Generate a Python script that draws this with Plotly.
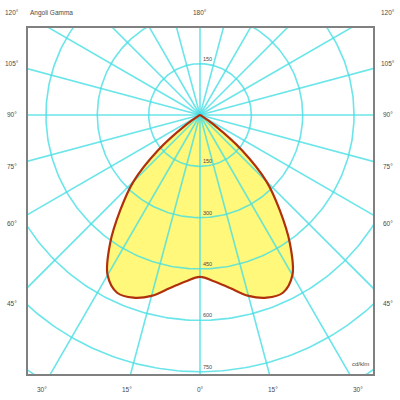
import numpy as np
import plotly.graph_objects as go

# Gamma angles (deg from nadir) and luminous intensity (cd/klm), C0-C180 plane
gamma = [0, 5, 10, 15, 20, 25, 30, 35, 40, 45, 50, 55, 60, 65]
intensity = [473, 488, 514, 547, 568, 573, 540, 458, 362, 275, 160, 50, 5, 0]

ring_values = [150, 300, 450, 600, 750, 900]
ring_labels_below = ["150", "300", "450", "600", "750"]
ring_label_above = "150"
spoke_step = 15

side_labels = ["120°", "105°", "90°", "75°", "60°", "45°"]
bottom_labels = ["30°", "15°", "0°", "15°", "30°"]
top_label = "180°"

GRID = "rgba(70,222,228,0.8)"
FILL = "#FFF87A"
EDGE = "#B0300C"
TXT = "#4a4a4a"
FONT = "Liberation Sans, Arial, sans-serif"

# pixel helpers for the 400x400 page (plot area 28..373 x 28..374)
L, R, T, B = 28, 373, 28, 374
def px(x):
    return (x - L) / (R - L)
def py(y):
    return (B - y) / (B - T)

# full curve: C180 half mirrored into negative side, then C0 half
g = np.array(gamma, dtype=float)
r = np.array(intensity, dtype=float)
ga = np.concatenate([-g[::-1], g[1:]])
ra = np.concatenate([r[::-1], r[1:]])
cx = ra * np.sin(np.radians(ga))
cy = -ra * np.cos(np.radians(ga))

fig = go.Figure()

fig.add_trace(go.Scatter(
    x=cx, y=cy, mode="lines", fill="toself", fillcolor=FILL,
    line=dict(width=0, shape="spline", smoothing=1.0),
    hoverinfo="skip", showlegend=False
))

# polar grid: rings
t = np.linspace(0, 2 * np.pi, 361)
for rv in ring_values:
    fig.add_trace(go.Scatter(
        x=rv * np.cos(t), y=rv * np.sin(t), mode="lines",
        line=dict(color=GRID, width=1.6), hoverinfo="skip", showlegend=False
    ))

# polar grid: spokes
for a in range(0, 360, spoke_step):
    ang = np.radians(a)
    fig.add_trace(go.Scatter(
        x=[0, 1400 * np.sin(ang)], y=[0, -1400 * np.cos(ang)], mode="lines",
        line=dict(color=GRID, width=1.6), hoverinfo="skip", showlegend=False
    ))

fig.add_trace(go.Scatter(
    x=cx, y=cy, mode="lines",
    line=dict(color=EDGE, width=2.2, shape="spline", smoothing=1.0),
    hoverinfo="skip", showlegend=False
))

annotations = []
def label(text, x, y, xanchor="center", yanchor="middle", size=6.5):
    annotations.append(dict(
        text=text, x=x, y=y, xref="paper", yref="paper", showarrow=False,
        xanchor=xanchor, yanchor=yanchor, font=dict(family=FONT, size=size, color=TXT)
    ))

side_y = [13, 63, 115, 166, 223, 303]
for txt, yy in zip(side_labels, side_y):
    label(txt, px(12), py(yy))
    label(txt, px(388), py(yy))

bottom_x = [42, 127, 200, 273, 358]
for txt, xx in zip(bottom_labels, bottom_x):
    label(txt, px(xx), py(389))

label(top_label, px(200), py(13))
label("Angoli Gamma", px(28), py(13), xanchor="left")
label("cd/klm", px(371), py(369), xanchor="right", yanchor="bottom", size=6)

for txt, rv in zip(ring_labels_below, ring_values):
    annotations.append(dict(
        text=txt, x=4, y=-rv, xref="x", yref="y", showarrow=False,
        xanchor="left", yanchor="bottom", font=dict(family=FONT, size=5.5, color=TXT)
    ))
annotations.append(dict(
    text=ring_label_above, x=4, y=ring_values[0], xref="x", yref="y", showarrow=False,
    xanchor="left", yanchor="bottom", font=dict(family=FONT, size=5.5, color=TXT)
))

k = 0.3423  # px per cd/klm
fig.update_layout(
    width=400, height=400,
    margin=dict(l=L, r=400 - R, t=T, b=400 - B),
    paper_bgcolor="white", plot_bgcolor="white",
    annotations=annotations,
    xaxis=dict(range=[-(200 - L) / k, (R - 200) / k], showgrid=False, zeroline=False,
               showticklabels=False, ticks="", showline=True, mirror=True,
               linecolor="#808080", linewidth=2),
    yaxis=dict(range=[-(B - 115) / k, (115 - T) / k], showgrid=False, zeroline=False,
               showticklabels=False, ticks="", showline=True, mirror=True,
               linecolor="#808080", linewidth=2),
)

fig.write_html("out.html", config={"displayModeBar": False},
               post_script="document.body.style.margin='0';")
